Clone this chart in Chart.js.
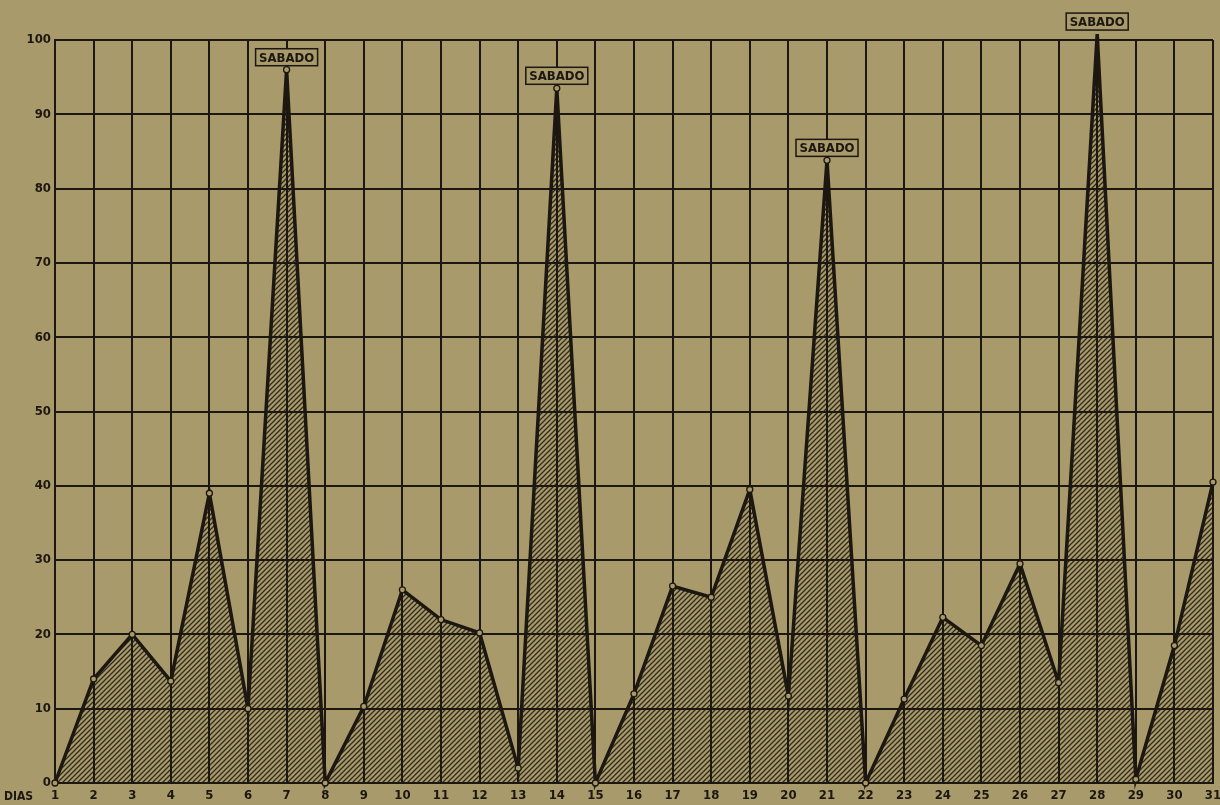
<!DOCTYPE html>
<html lang="pt">
<head>
    <meta charset="UTF-8">
    <title>Movimento diário</title>
    <script src="https://cdn.jsdelivr.net/npm/chart.js"></script>
    <style>
        html, body {
            margin: 0;
            padding: 0;
            background-color: #a89a6a;
        }
        .chart-box {
            width: 1220px;
            height: 805px;
            position: relative;
        }
    </style>
</head>
<body>
    <div class="chart-box">
        <canvas id="dailyChart"></canvas>
    </div>

    <script>
        // Values
        const days = ['1', '2', '3', '4', '5', '6', '7', '8', '9', '10',
                      '11', '12', '13', '14', '15', '16', '17', '18', '19', '20',
                      '21', '22', '23', '24', '25', '26', '27', '28', '29', '30', '31'];
        const values = [0, 14, 20, 13.7, 39, 10, 96, 0, 10.3, 26,
                        22, 20.2, 2, 93.5, 0, 12, 26.5, 25, 39.5, 11.7,
                        83.8, 0, 11.3, 22.3, 18.5, 29.5, 13.5, 100.8, 0.5, 18.5, 40.5];
        const yTicks = [0, 10, 20, 30, 40, 50, 60, 70, 80, 90, 100];
        const saturdays = ['7', '14', '21', '28'];
        const saturdayLabel = 'SABADO';
        const axisLabel = 'DIAS';

        const ink = '#1c1710';
        const paper = '#a89a6a';
        const fontFamily = '"DejaVu Sans Condensed", "DejaVu Sans", sans-serif';

        // diagonal hatching for the area under the line
        function makeHatch() {
            const s = 5;
            const c = document.createElement('canvas');
            c.width = s;
            c.height = s;
            const g = c.getContext('2d');
            g.strokeStyle = 'rgba(28,23,16,0.85)';
            g.lineWidth = 1.3;
            g.beginPath();
            g.moveTo(-1, s + 1); g.lineTo(s + 1, -1);
            g.moveTo(-1, 1); g.lineTo(1, -1);
            g.moveTo(s - 1, s + 1); g.lineTo(s + 1, s - 1);
            g.stroke();
            return g.createPattern(c, 'repeat');
        }

        const notesPlugin = {
            id: 'notes',
            afterDatasetsDraw(chart) {
                const ctx = chart.ctx;
                const meta = chart.getDatasetMeta(0);
                ctx.save();
                ctx.font = 'bold 13px ' + fontFamily;
                ctx.textAlign = 'center';
                ctx.textBaseline = 'middle';
                saturdays.forEach(d => {
                    const i = days.indexOf(d);
                    const pt = meta.data[i];
                    const w = 62, h = 17;
                    const x = pt.x, y = pt.y - 4 - h / 2;
                    ctx.fillStyle = paper;
                    ctx.fillRect(x - w / 2, y - h / 2, w, h);
                    ctx.strokeStyle = ink;
                    ctx.lineWidth = 1.5;
                    ctx.strokeRect(x - w / 2, y - h / 2, w, h);
                    ctx.fillStyle = ink;
                    ctx.fillText(saturdayLabel, x, y + 1);
                });
                // "DIAS" beside the day numbers
                const xs = chart.scales.x;
                ctx.textAlign = 'left';
                ctx.font = 'bold 12px ' + fontFamily;
                ctx.fillText(axisLabel, 4, xs.bottom - 8);
                ctx.restore();
            }
        };

        new Chart(document.getElementById('dailyChart'), {
            type: 'line',
            data: {
                labels: days,
                datasets: [{
                    data: values,
                    borderColor: ink,
                    borderWidth: 3.5,
                    backgroundColor: makeHatch(),
                    fill: 'origin',
                    tension: 0,
                    clip: false,
                    pointRadius: 3,
                    pointBorderWidth: 1.3,
                    pointBackgroundColor: paper,
                    pointBorderColor: ink
                }]
            },
            options: {
                responsive: true,
                maintainAspectRatio: false,
                animation: false,
                layout: {
                    padding: { top: 40, right: 7, left: 0, bottom: 0 }
                },
                plugins: {
                    legend: { display: false },
                    title: { display: false },
                    tooltip: { enabled: false }
                },
                scales: {
                    x: {
                        offset: false,
                        grid: {
                            offset: false,
                            color: ink,
                            lineWidth: 2,
                            drawTicks: false
                        },
                        border: { color: ink, width: 2 },
                        ticks: {
                            color: ink,
                            padding: 5,
                            maxRotation: 0,
                            autoSkip: false,
                            font: { family: fontFamily, size: 13, weight: 'bold' }
                        },
                        afterFit(scale) {
                            scale.height = 22;
                            scale.paddingLeft = 0;
                            scale.paddingRight = 0;
                        }
                    },
                    y: {
                        min: 0,
                        max: 100,
                        afterBuildTicks(scale) {
                            scale.ticks = yTicks.map(v => ({ value: v }));
                        },
                        grid: {
                            color: ink,
                            lineWidth: 2,
                            drawTicks: false
                        },
                        border: { color: ink, width: 2 },
                        ticks: {
                            color: ink,
                            padding: 4,
                            font: { family: fontFamily, size: 13, weight: 'bold' }
                        },
                        afterFit(scale) { scale.width = 55; }
                    }
                }
            },
            plugins: [notesPlugin]
        });
    </script>
</body>
</html>
